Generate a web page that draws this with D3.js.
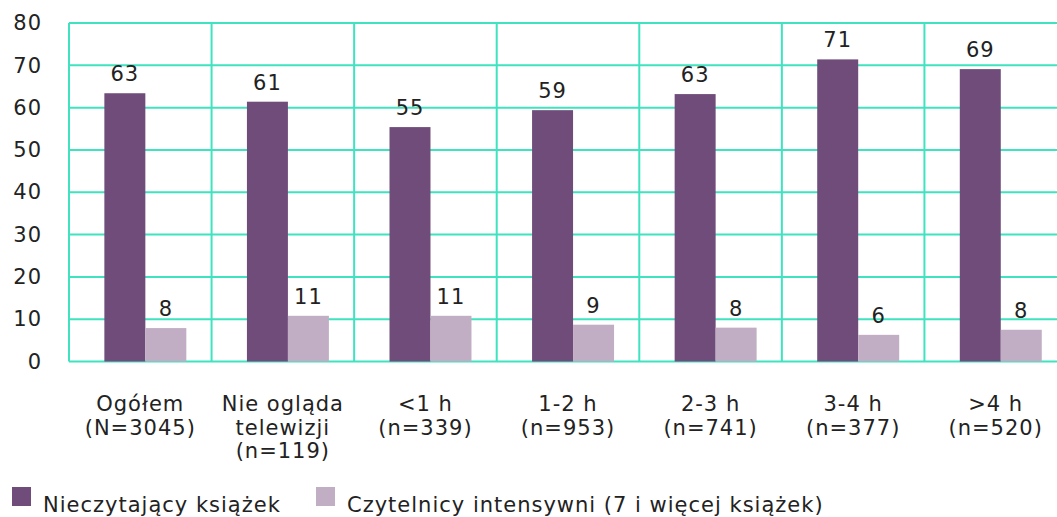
<html>
<head>
<meta charset="utf-8">
<script src="https://d3js.org/d3.v7.min.js"></script>
<style>
  body { margin: 0; background: white; }
  svg { display: block; font-family: "DejaVu Sans", sans-serif; letter-spacing: 1px; }
</style>
</head>
<body>
<svg width="1057" height="517"></svg>
<script>
// data
var categories = [
  ["Ogółem", "(N=3045)"],
  ["Nie ogląda", "telewizji", "(n=119)"],
  ["<1 h", "(n=339)"],
  ["1-2 h", "(n=953)"],
  ["2-3 h", "(n=741)"],
  ["3-4 h", "(n=377)"],
  [">4 h", "(n=520)"]
];
var seriesNames = ["Nieczytający książek", "Czytelnicy intensywni (7 i więcej książek)"];
var nonReaders = [63.4, 61.4, 55.4, 59.4, 63.2, 71.4, 69.1];
var heavyReaders = [7.9, 10.8, 10.8, 8.7, 8.0, 6.3, 7.5];
var yTicks = [0, 10, 20, 30, 40, 50, 60, 70, 80];

var colors = ["#704c7b", "#c2aec4"];
var gridColor = "#3fe3bf";
var fs = 21;

var svg = d3.select("svg");
var plotLeft = 69, plotRight = 1067, plotTop = 23, plotBottom = 361.5;

var keys = categories.map(function(d, i) { return i; });
var x0 = d3.scaleBand().domain(keys).range([plotLeft, plotRight]).paddingInner(0).paddingOuter(0);
var x1 = d3.scaleBand().domain([0, 1])
    .range([x0.bandwidth() * 0.248, x0.bandwidth() * 0.823]);
var y = d3.scaleLinear().domain([0, 80]).range([plotBottom, plotTop]);

// grid
var grid = svg.append("g");
grid.selectAll("line.h").data(yTicks).enter().append("line")
    .attr("x1", plotLeft).attr("x2", 1057)
    .attr("y1", function(d) { return y(d); })
    .attr("y2", function(d) { return y(d); })
    .attr("stroke", gridColor).attr("stroke-width", 2);
var bounds = keys.map(function(k) { return x0(k); }).concat([plotRight]);
grid.selectAll("line.v").data(bounds).enter().append("line")
    .attr("x1", function(d) { return d; }).attr("x2", function(d) { return d; })
    .attr("y1", plotTop).attr("y2", plotBottom)
    .attr("stroke", gridColor).attr("stroke-width", 2);

// y axis labels
var yAxis = svg.append("g")
    .attr("transform", "translate(" + plotLeft + ",0)")
    .call(d3.axisLeft(y).tickValues(yTicks).tickSize(0).tickPadding(27));
yAxis.select(".domain").remove();
yAxis.selectAll("text")
    .attr("font-family", "DejaVu Sans").attr("font-size", fs).attr("fill", "#222");

// bars
var rows = keys.map(function(i) { return [nonReaders[i], heavyReaders[i]]; });
var groups = svg.selectAll("g.grp").data(rows).enter().append("g")
    .attr("class", "grp")
    .attr("transform", function(d, i) { return "translate(" + x0(i) + ",0)"; });
groups.selectAll("rect").data(function(d) { return d; }).enter().append("rect")
    .attr("x", function(d, j) { return x1(j); })
    .attr("width", x1.bandwidth())
    .attr("y", function(d) { return y(d); })
    .attr("height", function(d) { return plotBottom - y(d); })
    .attr("fill", function(d, j) { return colors[j]; });
groups.selectAll("text").data(function(d) { return d; }).enter().append("text")
    .attr("x", function(d, j) { return x1(j) + x1.bandwidth() / 2; })
    .attr("y", function(d) { return y(d) - 12; })
    .attr("text-anchor", "middle")
    .attr("font-size", fs).attr("fill", "#222")
    .text(function(d) { return Math.round(d); });

// category labels
var cat = svg.selectAll("text.cat").data(categories).enter().append("text")
    .attr("class", "cat")
    .attr("text-anchor", "middle")
    .attr("font-size", fs).attr("fill", "#222");
cat.selectAll("tspan").data(function(d, i) { return d.map(function(t) { return [t, i]; }); })
    .enter().append("tspan")
    .attr("x", function(d) { return x0(d[1]) + x0.bandwidth() / 2; })
    .attr("y", function(d, j) { return 411 + j * 23.5; })
    .text(function(d) { return d[0]; });

// legend
var legendX = [12, 316];
var legend = svg.selectAll("g.leg").data(seriesNames).enter().append("g")
    .attr("class", "leg")
    .attr("transform", function(d, i) { return "translate(" + legendX[i] + ",487)"; });
legend.append("rect").attr("width", 19).attr("height", 19)
    .attr("fill", function(d, i) { return colors[i]; });
legend.append("text").attr("x", 31).attr("y", 25)
    .attr("font-size", fs).attr("fill", "#222")
    .text(function(d) { return d; });
</script>
</body>
</html>
